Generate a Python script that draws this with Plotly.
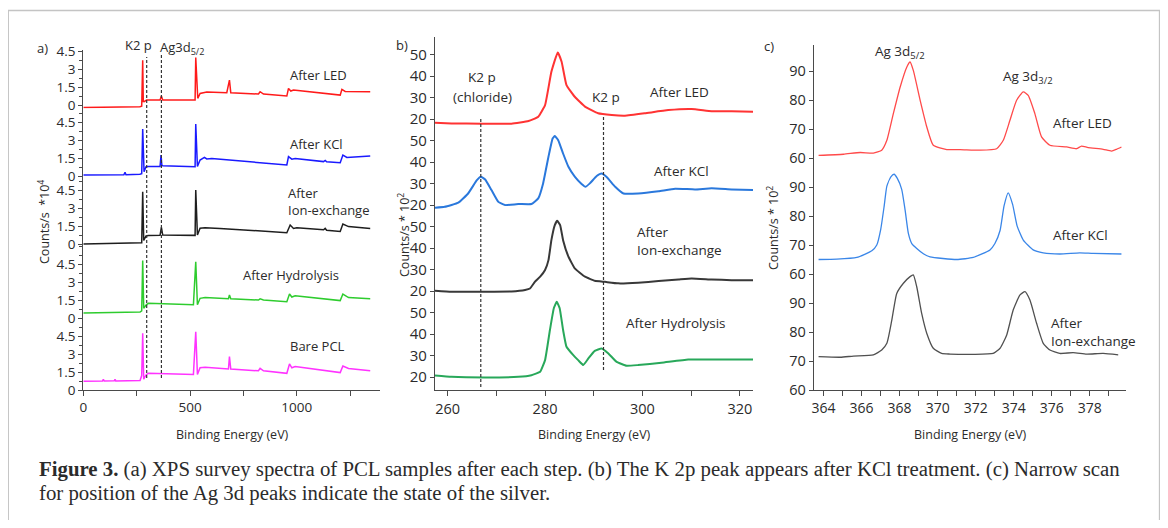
import plotly.graph_objects as go

# The page body has an 8 px margin, so the figure is drawn 8 px smaller on each side
# and every position below is given in window pixels, shifted by OFF.
OFF = 8
W, H = 1168 - 2 * OFF, 528 - 2 * OFF
FONT = "Open Sans"

# ---------------- Panel a: survey spectra (Counts/s * 1e4) ----------------
a_led_x = [0, 150, 265, 273.6, 278.3, 281, 284.6, 297.1, 359.6, 365.8, 372.1, 523.7, 526.8, 536.2, 547.1,
           578.4, 672.2, 684.7, 690.9, 820.6, 828.4, 844.1, 953.5, 961.3, 972.3, 984.8, 1203.6, 1211.4,
           1227.0, 1344.2]
a_led_y = [-0.2, -0.18, -0.15, -0.1, 3.75, 0.3, 0.28, 0.42, 0.42, 0.75, 0.42, 0.42, 3.97, 0.56, 0.97,
           1.08, 1.03, 2.08, 1.03, 0.92, 1.11, 0.92, 0.75, 1.39, 1.17, 1.25, 0.83, 1.31, 1.14, 1.11]

a_kcl_x = [0, 190, 195.5, 200, 265, 273.6, 278.3, 284.6, 294, 304.9, 359.6, 364.3, 368, 372.1, 523.7, 526.8,
           534.6, 547.1, 567.4, 578.4, 601.8, 953.5, 961.3, 977, 992.6, 1125.4, 1133.2, 1140, 1203.6,
           1216.1, 1234.8, 1344.2]
a_kcl_y = [0.08, 0.1, 0.3, 0.1, 0.15, 0.2, 3.92, 0.36, 0.78, 0.8, 0.8, 1.75, 0.9, 0.85, 0.78, 4.33,
           0.8, 1.33, 1.56, 1.42, 1.45, 0.92, 1.61, 1.4, 1.45, 1.2, 1.3, 1.18, 1.11, 1.75, 1.55, 1.67]

a_ion_x = [0, 265.8, 273.6, 278.3, 283, 294, 304.9, 359.6, 365.8, 372.1, 523.7, 526.8, 534.6, 547.1, 570,
           640, 953.5, 969.2, 984.8, 1000.4, 1125.4, 1133.2, 1140, 1203.6, 1216.1, 1242.6, 1344.2]
a_ion_y = [0.0, 0.05, 0.1, 4.36, 0.3, 0.67, 0.7, 0.72, 1.39, 0.75, 0.72, 4.5, 0.75, 1.31, 1.35,
           1.3, 0.94, 1.58, 1.3, 1.35, 1.18, 1.3, 1.15, 1.05, 1.67, 1.45, 1.3]

a_hyd_x = [0, 265.8, 273.6, 278.3, 283, 294, 304.9, 515.9, 526.8, 534.6, 547.1, 570.6, 680, 684.7, 690.9,
           820.6, 828.4, 844.1, 953.5, 966, 977, 992.6, 1203.6, 1216.1, 1242.6, 1344.2]
a_hyd_y = [0.42, 0.5, 0.6, 4.8, 0.81, 1.08, 1.22, 1.1, 4.69, 1.1, 1.64, 1.7, 1.6, 1.92, 1.6,
           1.5, 1.6, 1.5, 1.36, 2.0, 1.75, 1.85, 1.45, 2.0, 1.7, 1.6]

a_pcl_x = [0, 90, 94, 98, 145, 148.6, 152, 265.8, 273.6, 278.3, 283, 294, 304.9, 515.9, 526.8, 534.6,
           547.1, 570.6, 680, 684.7, 690.9, 820.6, 828.4, 844.1, 953.5, 966, 977, 992.6, 1203.6, 1216.1,
           1242.6, 1344.2]
a_pcl_y = [0.72, 0.75, 0.9, 0.75, 0.76, 0.9, 0.76, 0.8, 1.2, 4.72, 0.9, 1.25, 1.4, 1.3, 4.85, 1.3,
           1.86, 1.9, 1.75, 2.78, 1.75, 1.6, 1.8, 1.6, 1.39, 2.17, 1.85, 1.95, 1.45, 2.0, 1.8, 1.6]

# ---------------- Panel b: C1s / K2p region (Counts/s * 1e2) ----------------
b_led_x = [257.4, 260.8, 267.0, 273.1, 276.6, 278.6, 280.0, 281.3, 282.6, 283.4, 284.4, 286.1, 288.2,
           290.9, 293.7, 296.4, 300.5, 305.3, 310.1, 314.2, 318.3, 322.8]
b_led_y = [18.3, 18.0, 17.85, 17.85, 19.1, 21.1, 26.5, 42.0, 51.0, 46.7, 35.8, 30.4, 25.8,
           22.7, 21.9, 21.6, 22.7, 24.2, 24.7, 23.7, 23.7, 23.4]

b_kcl_x = [257.4, 259.4, 262.2, 264.2, 266.0, 266.8, 267.7, 269.0, 270.4, 271.8, 274.5, 277.2, 278.6,
           279.6, 280.7, 281.55, 282.0, 282.7, 283.7, 284.8, 286.1, 287.5, 288.3, 289.2, 290.6, 291.6,
           292.6, 294.4, 296.1, 299.1, 303.3, 306.7, 310.8, 314.2, 318.3, 322.8]
b_kcl_y = [18.76, 19.2, 21.1, 25.4, 31.6, 33.2, 31.9, 27.0, 21.5, 20.0, 20.5, 20.5, 23.1,
           30.1, 42.5, 51.0, 52.1, 50.2, 44.0, 37.8, 33.2, 29.8, 28.5, 30.1, 33.5, 34.7,
           33.2, 28.5, 25.4, 25.4, 26.4, 27.6, 27.3, 27.8, 27.3, 27.0]

b_ion_x = [257.4, 260.8, 267.7, 273.1, 275.9, 276.9, 277.9, 279.0, 280.0, 280.7, 281.3, 282.0, 282.5,
           283.1, 283.7, 284.8, 286.1, 288.2, 290.2, 292.3, 295.0, 299.1, 303.3, 307.4, 310.1, 314.2,
           318.3, 322.8]
b_ion_y = [20.15, 19.7, 19.7, 19.8, 20.5, 21.2, 24.3, 26.7, 29.8, 34.4, 43.7, 50.7, 52.7,
           50.7, 43.7, 36.0, 30.6, 26.7, 24.8, 24.3, 23.6, 23.9, 24.65, 25.4, 25.9, 25.4, 25.1, 25.1]

b_hyd_x = [257.4, 260.8, 267.7, 274.5, 277.2, 279.0, 280.0, 281.0, 281.8, 282.4, 283.0, 283.7, 284.4,
           285.8, 286.8, 287.85, 288.9, 290.2, 291.6, 293.0, 294.7, 296.75, 299.1, 303.9, 309.4,
           314.2, 318.3, 322.8]
b_hyd_y = [20.8, 20.15, 19.85, 20.15, 20.9, 22.5, 27.9, 41.9, 52.0, 55.0, 52.0, 41.9, 34.1,
           30.2, 27.9, 25.6, 28.7, 32.2, 33.3, 31.0, 27.1, 25.3, 25.6, 26.7, 28.2, 28.2, 28.2, 28.2]

# ---------------- Panel c: Ag 3d narrow scan (Counts/s * 1e2) ----------------
c_led_x = [363.74, 365.05, 365.93, 366.62, 367.06, 367.33, 367.67, 368.03, 368.38, 368.55, 368.72,
           369.08, 369.43, 369.77, 370.48, 371.18, 372.23, 373.1, 373.45, 373.8, 374.15, 374.5,
           374.76, 375.11, 375.46, 375.9, 376.78, 377.3, 377.56, 377.91, 378.7, 379.14, 379.4, 379.66]
c_led_y = [60.9, 61.3, 61.9, 61.7, 62.7, 66.1, 75.3, 84.5, 91.4, 93.1, 90.2,
           79.9, 70.7, 64.4, 62.9, 62.9, 62.7, 63.2, 66.1, 73.0, 79.9, 82.8,
           81.6, 75.3, 67.3, 64.4, 63.8, 63.2, 64.1, 63.6, 63.0, 62.4, 63.0, 63.8]

c_kcl_x = [363.74, 364.70, 365.75, 366.54, 366.80, 367.01, 367.19, 367.33, 367.54, 367.71, 367.88,
           368.11, 368.29, 368.46, 368.64, 368.90, 369.25, 369.6, 371.0, 371.87, 372.75, 373.01,
           373.28, 373.49, 373.71, 373.94, 374.18, 374.5, 375.02, 375.55, 376.42, 377.47, 378.17, 379.66]
c_kcl_y = [65.0, 65.1, 65.7, 68.0, 70.0, 75.5, 83.5, 90.3, 93.5, 94.4, 93.0,
           89.2, 82.0, 74.0, 70.5, 68.8, 67.0, 65.9, 65.0, 65.7, 68.3, 70.5,
           75.0, 83.5, 88.0, 84.0, 76.5, 71.7, 68.3, 67.3, 66.9, 67.3, 67.1, 66.9]

c_ion_x = [363.74, 364.88, 365.57, 366.62, 367.06, 367.33, 367.59, 367.85, 368.2, 368.55, 368.72,
           368.9, 369.16, 369.43, 369.77, 370.21, 370.65, 371.87, 372.92, 373.28, 373.63, 373.97,
           374.33, 374.59, 374.85, 375.2, 375.55, 375.9, 376.42, 377.12, 377.83, 378.7, 379.49]
c_ion_y = [71.5, 71.3, 71.7, 72.1, 73.8, 76.1, 84.1, 93.3, 96.8, 99.1, 99.7,
           95.6, 86.4, 79.5, 74.4, 72.6, 72.4, 72.3, 72.6, 74.4, 79.0, 87.6,
           92.8, 93.9, 91.0, 83.0, 76.1, 73.8, 72.6, 72.9, 72.4, 72.6, 72.1]

a_ticks = [0, 1.5, 3, 4.5]
b_ticks = [20, 30, 40, 50]
c_ticks = [60, 70, 80, 90]


def px(x):
    return (x - OFF) / W


def py(y):
    return 1 - (y - OFF) / H


AXC = "#4a4a4a"
TXT = "#2b2b2b"

fig = go.Figure()
layout = dict(
    template="none",
    width=W, height=H, margin=dict(l=0, r=0, t=0, b=0, pad=0, autoexpand=False),
    paper_bgcolor="white", plot_bgcolor="rgba(0,0,0,0)",
    showlegend=False, font=dict(family=FONT, color=TXT, size=13),
)


def yax(dom_top, dom_bot, rng, ticks, xname, size, minor=None):
    d = dict(domain=[py(dom_bot), py(dom_top)], range=rng, anchor=xname, automargin=False,
             showline=True, linecolor=AXC, linewidth=1.4, showgrid=False, zeroline=False,
             ticks="outside", ticklen=4, tickwidth=1.2, tickcolor=AXC,
             tickvals=ticks, tickfont=dict(size=size, color=TXT, family=FONT))
    if minor:
        d["minor"] = dict(dtick=minor, ticks="outside", ticklen=3, tickcolor=AXC, showgrid=False)
    return d


# ----- panel a axes -----
a_series = [(a_led_x, a_led_y, "#ff1a1a", 105, 50, [-0.3, 4.6]),
            (a_kcl_x, a_kcl_y, "#1a1aff", 176, 105, [-0.3, 5.92]),
            (a_ion_x, a_ion_y, "#1e1e1e", 244, 176, [-0.3, 5.67]),
            (a_hyd_x, a_hyd_y, "#2ecc2e", 318, 244, [-0.3, 6.17]),
            (a_pcl_x, a_pcl_y, "#ff33ff", 390, 318, [0, 6.0])]
for i, (xs, ys, col, zero_py, top_py, rng) in enumerate(a_series):
    n = i + 1
    bot_py = zero_py - rng[0] * 12
    layout["yaxis" + ("" if n == 1 else str(n))] = yax(top_py, bot_py, rng, a_ticks, "x", 13.5, minor=0.75)
    fig.add_trace(go.Scatter(x=xs, y=ys, mode="lines", line=dict(color=col, width=1.5),
                             xaxis="x", yaxis="y" + ("" if n == 1 else str(n)), hoverinfo="skip"))

layout["xaxis"] = dict(domain=[px(83.3), px(380)], range=[0, 1390], anchor="y5", automargin=False,
                       showline=True, linecolor=AXC, linewidth=1.4, showgrid=False, zeroline=False,
                       ticks="outside", ticklen=5, tickcolor=AXC,
                       tickvals=[0, 250, 500, 750, 1000, 1250], ticktext=["0", "", "500", "", "1000", ""],
                       tickfont=dict(size=13.5, color=TXT, family=FONT))

# ----- panel b axes -----
b_series = [(b_led_x, b_led_y, "#ff3333", 132, 37),
            (b_kcl_x, b_kcl_y, "#2a78dc", 218, 132),
            (b_ion_x, b_ion_y, "#383838", 304, 214),
            (b_hyd_x, b_hyd_y, "#28a85a", 390, 296)]
for i, (xs, ys, col, bot_py, top_py) in enumerate(b_series):
    n = 6 + i
    rng = [14, 14 + (bot_py - top_py) / 2.15]
    layout["yaxis%d" % n] = yax(top_py, bot_py, rng, b_ticks, "x2", 15)
    fig.add_trace(go.Scatter(x=xs, y=ys, mode="lines", line=dict(color=col, width=2, shape="spline", smoothing=0.35),
                             xaxis="x2", yaxis="y%d" % n, hoverinfo="skip"))

layout["xaxis2"] = dict(domain=[px(435), px(753)], range=[257.4, 322.7], anchor="y9", automargin=False,
                        showline=True, linecolor=AXC, linewidth=1.4, showgrid=False, zeroline=False,
                        ticks="outside", ticklen=5, tickcolor=AXC,
                        tickvals=[260, 270, 280, 290, 300, 310, 320],
                        ticktext=["260", "", "280", "", "300", "", "320"],
                        tickfont=dict(size=14.5, color=TXT, family=FONT))

# ----- panel c axes -----
c_series = [(c_led_x, c_led_y, "#ff4a4a", 158, 45),
            (c_kcl_x, c_kcl_y, "#3a86e8", 274, 158),
            (c_ion_x, c_ion_y, "#505050", 390, 267)]
for i, (xs, ys, col, bot_py, top_py) in enumerate(c_series):
    n = 10 + i
    rng = [60, 60 + (bot_py - top_py) / 2.9]
    layout["yaxis%d" % n] = yax(top_py, bot_py, rng, c_ticks, "x3", 14.5)
    fig.add_trace(go.Scatter(x=xs, y=ys, mode="lines", line=dict(color=col, width=1.3, shape="spline", smoothing=0.5),
                             xaxis="x3", yaxis="y%d" % n, hoverinfo="skip"))

layout["xaxis3"] = dict(domain=[px(814), px(1126)], range=[363.5, 379.9], anchor="y12", automargin=False,
                        showline=True, linecolor=AXC, linewidth=1.4, showgrid=False, zeroline=False,
                        ticks="outside", ticklen=5, tickcolor=AXC,
                        tickvals=list(range(364, 380)),
                        ticktext=[str(v) if v % 2 == 0 else "" for v in range(364, 380)],
                        tickfont=dict(size=14, color=TXT, family=FONT))

# ----- dashed marker lines -----
shapes = []
for xv, y0, y1, xr in [(297, 57, 378, "x"), (366, 55, 378, "x"),
                       (266.8, 118, 387, "x2"), (292.0, 115, 370, "x2")]:
    shapes.append(dict(type="line", xref=xr, yref="paper", x0=xv, x1=xv, y0=py(y1), y1=py(y0),
                       line=dict(color="#333333", width=1.2, dash="3px,2px")))
# figure frame
shapes.append(dict(type="rect", xref="paper", yref="paper", x0=px(8.2), x1=px(1159.6), y0=py(560),
                   y1=py(10.5), line=dict(color="#c4c4c4", width=1.5), fillcolor="rgba(0,0,0,0)"))
layout["shapes"] = shapes

ann = []


def text(x, y, s, size=13, xanchor="center", align="center", angle=0, family=FONT):
    ann.append(dict(x=px(x), y=py(y), xref="paper", yref="paper", text=s, showarrow=False,
                    xanchor=xanchor, yanchor="middle", align=align, textangle=angle,
                    font=dict(size=size, color=TXT, family=family)))


# panel labels
text(42, 48, "a)", 13)
text(402, 45, "b)", 13)
text(769, 46, "c)", 13)

# panel a annotations
text(138, 45, "K2 p", 13)
text(158, 48, "Ag3d<sub>5/2</sub>", 13, xanchor="left")
text(318, 75, "After LED", 13)
text(316, 144, "After KCl", 13)
text(286, 201, "After<br>Ion-exchange", 13, xanchor="left", align="left")
text(291, 275, "After Hydrolysis", 13)
text(317, 346, "Bare PCL", 13)

# panel b annotations
text(482, 77, "K2 p", 13.5)
text(482, 97, "(chloride)", 13.5)
text(606, 97, "K2 p", 13.5)
text(679, 92, "After LED", 13.5)
text(681, 171, "After KCl", 13.5)
text(635, 241, "After<br>Ion-exchange", 13.5, xanchor="left", align="left")
text(676, 323, "After Hydrolysis", 13.5)

# panel c annotations
text(873, 52, "Ag 3d<sub>5/2</sub>", 13.5, xanchor="left")
text(1001, 77, "Ag 3d<sub>3/2</sub>", 13.5, xanchor="left")
text(1082, 123, "After LED", 13.5)
text(1080, 235, "After KCl", 13.5)
text(1049, 332, "After<br>Ion-exchange", 13.5, xanchor="left", align="left")

# axis titles
text(232, 434, "Binding Energy (eV)", 12.5)
text(594, 434, "Binding Energy (eV)", 12.5)
text(970, 434, "Binding Energy (eV)", 12.5)
text(44, 222, "Counts/s  *10<sup>4</sup>", 12.5, angle=-90)
text(404, 235, "Counts/s * 10<sup>2</sup>", 12.5, angle=-90)
text(773, 228, "Counts/s * 10<sup>2</sup>", 12.5, angle=-90)

# caption
text(37, 469, "<b>Figure 3.</b> (a) XPS survey spectra of PCL samples after each step. (b) The K 2p peak appears "
              "after KCl treatment. (c) Narrow scan", 20.8, xanchor="left", align="left", family="Liberation Serif")
text(37, 493, "for position of the Ag 3d peaks indicate the state of the silver.", 20.8, xanchor="left",
     align="left", family="Liberation Serif")

layout["annotations"] = ann
fig.update_layout(**layout)
fig.write_html("out.html")
